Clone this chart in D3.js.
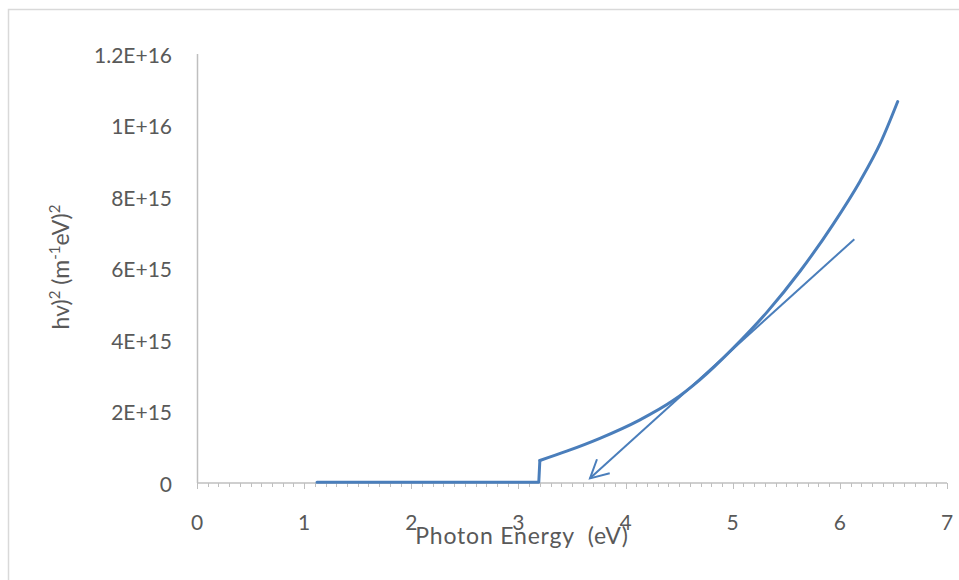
<!DOCTYPE html>
<html>
<head>
<meta charset="utf-8">
<script src="https://cdn.jsdelivr.net/npm/d3@7"></script>
<style>
  body { margin: 0; background: #fff; }
  svg text { font-family: Lato, "Noto Sans", sans-serif; fill: #595959; }
</style>
</head>
<body>
<div id="vis1"></div>
<script>
// photon energy (eV) and (alpha hv)^2
const energy = [1.12, 1.3, 1.6, 2.0, 2.4, 2.8, 3.0, 3.19, 3.2, 3.45, 3.76, 4.13, 4.45, 4.69, 5.0, 5.32, 5.63, 5.94, 6.19, 6.38, 6.54];
const alphaHv = [2e13, 2e13, 2e13, 2e13, 2e13, 2e13, 2e13, 2e13, 6.3e14, 8.9e14, 1.25e15, 1.76e15, 2.32e15, 2.88e15, 3.76e15, 4.78e15, 5.93e15, 7.25e15, 8.45e15, 9.52e15, 1.067e16];

// tangent drawn by hand, start and arrow tip
const tangentEnergy = [6.135, 3.668];
const tangentValue = [6.82e15, 1.3e14];

const xTicks = [0, 1, 2, 3, 4, 5, 6, 7];
const yTicks = [0, 2e15, 4e15, 6e15, 8e15, 1e16, 1.2e16];
const yTickLabels = ["0", "2E+15", "4E+15", "6E+15", "8E+15", "1E+16", "1.2E+16"];

const edgeEnergy = 3.2;

const blue = "#4a7ebb";
const axisGray = "#bfbfbf";

function vis1() {
    const width = 959;
    const height = 580;
    const margin = { left: 197, top: 54, right: 12, bottom: 97 };

    const svg = d3.select("#vis1")
        .append("svg")
        .attr("width", width)
        .attr("height", height);

    // outer chart frame
    svg.append("rect")
        .attr("x", 8.5)
        .attr("y", 9.5)
        .attr("width", width)
        .attr("height", height)
        .attr("fill", "none")
        .attr("stroke", "#d9d9d9")
        .attr("stroke-width", 1.5);

    const xScale = d3.scaleLinear()
        .domain([0, 7])
        .range([margin.left, width - margin.right]);

    const yScale = d3.scaleLinear()
        .domain([0, 1.2e16])
        .range([height - margin.bottom, margin.top]);

    // y axis: plain line + labels
    svg.append("line")
        .attr("x1", xScale(0) + 0.5)
        .attr("x2", xScale(0) + 0.5)
        .attr("y1", yScale(1.2e16))
        .attr("y2", yScale(0))
        .attr("stroke", axisGray)
        .attr("stroke-width", 1.5);

    svg.selectAll(".y-label")
        .data(yTicks)
        .join("text")
            .attr("class", "y-label")
            .attr("text-anchor", "end")
            .attr("dominant-baseline", "central")
            .style("font-size", "21px")
            .attr("x", xScale(0) - 25)
            .attr("y", d => yScale(d))
            .text((d, i) => yTickLabels[i]);

    // x axis with major and minor ticks
    const xAxis = svg.append("g")
        .attr("transform", `translate(0, ${yScale(0)})`);

    xAxis.append("line")
        .attr("x1", xScale(0))
        .attr("x2", xScale(7))
        .attr("stroke", axisGray)
        .attr("stroke-width", 1.5);

    const minorTicks = d3.range(0, 70).map(i => i / 10).filter((d, i) => i % 10 !== 0);

    xAxis.selectAll(".minor")
        .data(minorTicks)
        .join("line")
            .attr("class", "minor")
            .attr("x1", d => Math.round(xScale(d)) + 0.5)
            .attr("x2", d => Math.round(xScale(d)) + 0.5)
            .attr("y1", 0)
            .attr("y2", 4)
            .attr("stroke", axisGray);

    xAxis.selectAll(".major")
        .data(xTicks)
        .join("line")
            .attr("class", "major")
            .attr("x1", d => Math.round(xScale(d)) + 0.5)
            .attr("x2", d => Math.round(xScale(d)) + 0.5)
            .attr("y1", 0)
            .attr("y2", 6)
            .attr("stroke", axisGray);

    xAxis.selectAll(".x-label")
        .data(xTicks)
        .join("text")
            .attr("class", "x-label")
            .attr("text-anchor", "middle")
            .style("font-size", "21px")
            .attr("x", d => xScale(d))
            .attr("y", 47)
            .text(d => d);

    // axis titles
    svg.append("text")
        .attr("text-anchor", "middle")
        .style("font-size", "23px")
        .style("letter-spacing", "0.8px")
        .style("white-space", "pre")
        .attr("x", 522)
        .attr("y", 544)
        .text("Photon Energy  (eV)");

    const yTitle = svg.append("text")
        .attr("text-anchor", "middle")
        .style("font-size", "23px")
        .attr("transform", "translate(69, 267) rotate(-90)");

    const titleParts = [
        { t: "hv)", sup: false },
        { t: "2", sup: true },
        { t: " (m", sup: false },
        { t: "-1", sup: true },
        { t: "eV)", sup: false },
        { t: "2", sup: true }
    ];
    titleParts.forEach((p, i) => {
        const prevSup = i > 0 && titleParts[i - 1].sup;
        yTitle.append("tspan")
            .style("font-size", p.sup ? "15px" : "23px")
            .style("white-space", "pre")
            .attr("dy", p.sup ? -9 : (prevSup ? 9 : 0))
            .text(p.t);
    });

    // data curve: flat part + jump drawn straight, rising part smooth
    const points = energy.map((e, i) => ({ e: e, v: alphaHv[i] }));

    const flatLine = d3.line()
        .x(d => xScale(d.e))
        .y(d => yScale(d.v));

    const riseLine = d3.line()
        .x(d => xScale(d.e))
        .y(d => yScale(d.v))
        .curve(d3.curveMonotoneX);

    const curveParts = [
        { gen: flatLine, data: points.filter(d => d.e <= edgeEnergy) },
        { gen: riseLine, data: points.filter(d => d.e >= edgeEnergy) }
    ];

    svg.selectAll(".curve")
        .data(curveParts)
        .join("path")
            .attr("class", "curve")
            .attr("fill", "none")
            .attr("stroke", blue)
            .attr("stroke-width", 3)
            .attr("stroke-linejoin", "round")
            .attr("stroke-linecap", "round")
            .attr("d", d => d.gen(d.data));

    // tangent arrow
    svg.append("defs")
        .append("marker")
            .attr("id", "arrow")
            .attr("markerUnits", "userSpaceOnUse")
            .attr("viewBox", "-22 -12 24 24")
            .attr("refX", 0)
            .attr("refY", 0)
            .attr("markerWidth", 24)
            .attr("markerHeight", 24)
            .attr("orient", "auto")
        .append("path")
            .attr("d", "M-18,-9.5 L0,0 L-18,9.5")
            .attr("fill", "none")
            .attr("stroke", blue)
            .attr("stroke-width", 2);

    const tangent = tangentEnergy.map((e, i) => ({ e: e, v: tangentValue[i] }));

    svg.append("path")
        .datum(tangent)
        .attr("fill", "none")
        .attr("stroke", blue)
        .attr("stroke-width", 2)
        .attr("marker-end", "url(#arrow)")
        .attr("d", d3.line().x(d => xScale(d.e)).y(d => yScale(d.v)));
}

vis1();
</script>
</body>
</html>
